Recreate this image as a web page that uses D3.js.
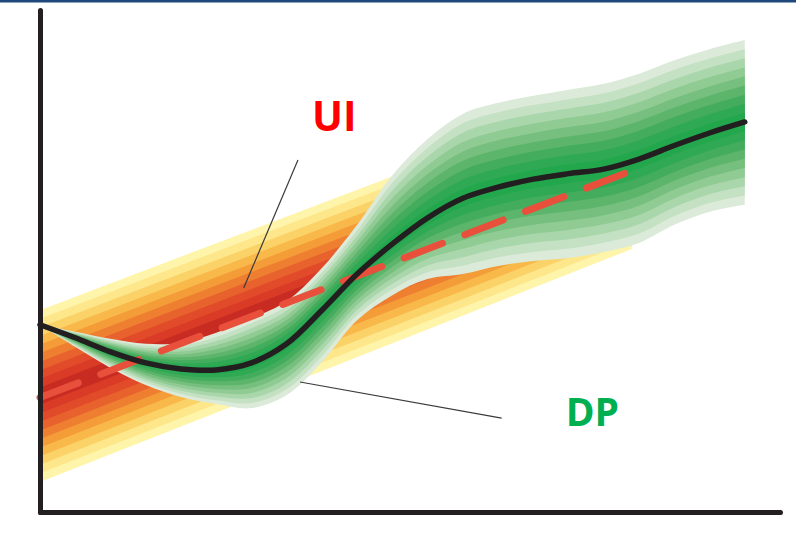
<!DOCTYPE html>
<html>
<head>
<meta charset="utf-8">
<script src="https://cdn.jsdelivr.net/npm/d3@7"></script>
<style>
	body { margin: 0; background: #fff; }
	svg { display: block; }
	.label { font-family: 'Open Sans', sans-serif; font-weight: 700; }
</style>
</head>
<body>
<svg id="chart"></svg>
<script>
// DP fan: x positions, centre path and outer edges (data units)
var dpX = [0, 5, 10, 15, 20, 25, 30, 35, 40, 45, 50, 55, 60, 65, 70, 75, 80, 85, 90, 95, 100]
var dpMid = [37.3, 34.7, 31.9, 29.7, 28.5, 28.3, 29.7, 33.5, 40.2, 47.4, 53.4, 58.6, 62.5, 64.7, 66.3, 67.4, 68.3, 70.3, 73.0, 75.5, 77.7]
var dpUpper = [37.3, 35.9, 34.5, 33.5, 33.7, 35.7, 38.6, 42.0, 48.6, 57.2, 67.1, 74.3, 79.3, 81.5, 82.9, 84.1, 85.3, 87.3, 90.0, 92.2, 94.0]
var dpLower = [37.3, 32.9, 28.7, 25.3, 22.9, 21.5, 20.7, 23.3, 29.9, 38.2, 43.2, 46.4, 47.4, 49.0, 50.0, 50.6, 51.8, 53.6, 57.2, 59.8, 61.2]

// UI fan: straight trend, spread narrows a little to the right
var uiX = [0, 84]
var uiMid = [23.1, 68.7]
var uiSpread = [17.1, 16.3]
var uiDashX = [0, 83.6]
var uiDashY = [22.8, 67.8]

var uiColors = ['#fef4aa', '#fde78a', '#fbd268', '#f8b84a', '#f49c38', '#ee7f31', '#e8622d', '#e14b2a', '#d93b27', '#c72b22']
var dpColors = ['#dcebd9', '#c4e1c3', '#aad6ab', '#90cb94', '#76bf7e', '#5cb56b', '#44ad5d', '#30a954', '#22a74d']

// labels and leader lines (data units)
var labels = [
	{text: 'UI', x: 38.6, y: 75.9, size: 41, color: '#ff0000'},
	{text: 'DP', x: 74.6, y: 17.2, size: 39, color: '#00b050'}
]
var leaders = [
	[[36.6, 70.1], [28.9, 44.6]],
	[[36.9, 25.9], [65.5, 18.7]]
]

var width = 796, height = 534

var svg = d3.select('#chart')
	.attr('width', width)
	.attr('height', height)

var x = d3.scaleLinear()
	.domain([0, 105])
	.range([40, 780])

var y = d3.scaleLinear()
	.domain([0, 100])
	.range([512, 10])

// thin blue frame line at the top
svg.append('rect')
	.attr('x', 0).attr('y', 0)
	.attr('width', width).attr('height', 2.5)
	.attr('fill', '#1f497d')

// UI bands, outer (pale) first
var uiN = uiColors.length
var uiG = svg.append('g')
d3.range(uiN, 0, -1).forEach(function(k) {
	var f = k / uiN
	var pts = uiX.map((d, i) => ({x: d, y0: uiMid[i] - uiSpread[i] * f, y1: uiMid[i] + uiSpread[i] * f}))
	uiG.append('path')
		.datum(pts)
		.attr('fill', uiColors[uiN - k])
		.attr('d', d3.area()
			.x(d => x(d.x))
			.y0(d => y(d.y0))
			.y1(d => y(d.y1)))
})

// DP bands on top
var dpN = dpColors.length
var dpG = svg.append('g')
d3.range(dpN, 0, -1).forEach(function(k) {
	var f = k / dpN
	var pts = dpX.map((d, i) => ({
		x: d,
		y0: dpMid[i] + (dpLower[i] - dpMid[i]) * f,
		y1: dpMid[i] + (dpUpper[i] - dpMid[i]) * f
	}))
	dpG.append('path')
		.datum(pts)
		.attr('fill', dpColors[dpN - k])
		.attr('d', d3.area()
			.curve(d3.curveCatmullRom)
			.x(d => x(d.x))
			.y0(d => y(d.y0))
			.y1(d => y(d.y1)))
})

// UI trend (dashed)
svg.append('path')
	.datum(uiDashX.map((d, i) => [d, uiDashY[i]]))
	.attr('fill', 'none')
	.attr('stroke', '#e8503c')
	.attr('stroke-width', 7)
	.attr('stroke-linecap', 'round')
	.attr('stroke-dasharray', '41 24')
	.attr('d', d3.line().x(d => x(d[0])).y(d => y(d[1])))

// DP centre path
svg.append('path')
	.datum(dpX.map((d, i) => [d, dpMid[i]]))
	.attr('fill', 'none')
	.attr('stroke', '#231f20')
	.attr('stroke-width', 5.5)
	.attr('stroke-linecap', 'round')
	.attr('d', d3.line().curve(d3.curveCatmullRom).x(d => x(d[0])).y(d => y(d[1])))

// leader lines
svg.selectAll('.leader')
	.data(leaders)
	.enter()
	.append('line')
		.attr('class', 'leader')
		.attr('x1', d => x(d[0][0])).attr('y1', d => y(d[0][1]))
		.attr('x2', d => x(d[1][0])).attr('y2', d => y(d[1][1]))
		.attr('stroke', '#3a3a3a')
		.attr('stroke-width', 1.2)

svg.selectAll('.label')
	.data(labels)
	.enter()
	.append('text')
		.attr('class', 'label')
		.attr('x', d => x(d.x))
		.attr('y', d => y(d.y))
		.attr('font-size', d => d.size)
		.attr('fill', d => d.color)
		.text(d => d.text)

// AXES (no ticks, just heavy lines)
var axL = svg.append('g')
	.attr('transform', 'translate(' + x(0) + ',0)')
	.call(d3.axisLeft(y).tickValues([]).tickSizeOuter(0))
var axB = svg.append('g')
	.attr('transform', 'translate(0,' + y(0) + ')')
	.call(d3.axisBottom(x).tickValues([]).tickSizeOuter(0))

svg.selectAll('.domain')
	.attr('stroke', '#231f20')
	.attr('stroke-width', 5)
	.attr('stroke-linecap', 'round')
</script>
</body>
</html>
